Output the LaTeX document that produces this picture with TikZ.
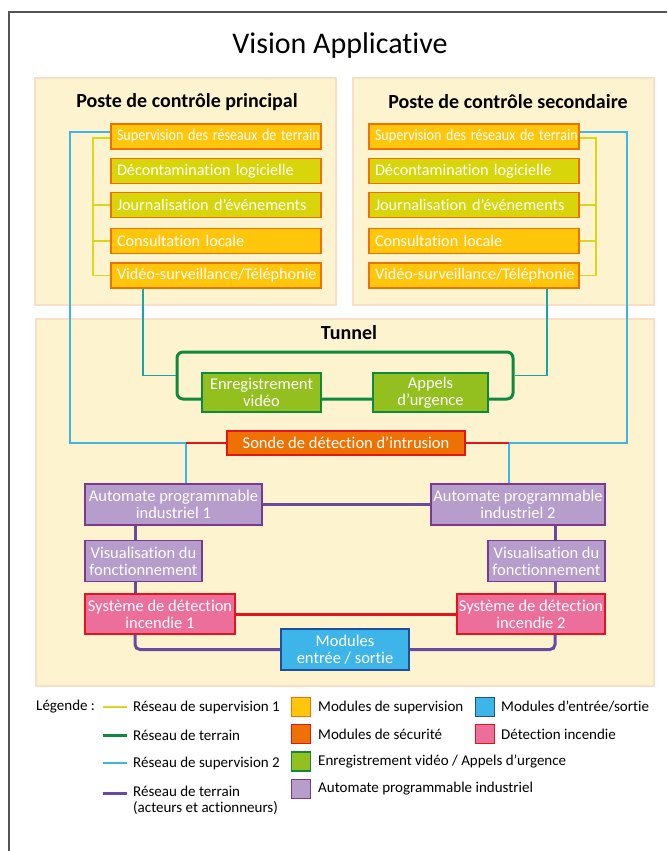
\documentclass[tikz,border=0pt]{standalone}
\usepackage{fontspec}
\setmainfont{Carlito}[Ligatures=NoCommon]
\usetikzlibrary{calc}

\definecolor{panelfill}{HTML}{FEF3CF}
\definecolor{panelline}{HTML}{FADFC6}
\definecolor{supfill}{HTML}{FFC60B}
\definecolor{orangeline}{HTML}{EE7203}
\definecolor{limefill}{HTML}{D8D60A}
\definecolor{redline}{HTML}{E3141B}
\definecolor{darkgreen}{HTML}{0E8A3E}
\definecolor{lightgreen}{HTML}{93C01F}
\definecolor{sup1line}{HTML}{DCD51E}
\definecolor{sup2line}{HTML}{3DB5E6}
\definecolor{tealline}{HTML}{17A5A8}
\definecolor{purpleline}{HTML}{6A4A9E}
\definecolor{purpleborder}{HTML}{7B3A8E}
\definecolor{purplefill}{HTML}{B69DCB}
\definecolor{pinkfill}{HTML}{EC6E9B}
\definecolor{bluefill}{HTML}{3EB5E8}
\definecolor{blueborder}{HTML}{1F4E9C}
\definecolor{framegray}{HTML}{555555}

% horizontally condensed label for the long module name
\newcommand{\narrowtext}[1]{\scalebox{0.87}[1]{#1}}

\tikzset{
  panel/.style={draw=panelline, fill=panelfill, line width=2pt},
  head/.style={font=\fontsize{20}{22}\selectfont\bfseries, text=black},
  modbox/.style={draw, line width=1.6pt, text=white, inner sep=0pt,
    font=\fontsize{16.5}{17}\selectfont},
  supbox/.style={modbox, draw=orangeline, fill=supfill, text width=210pt,
    inner xsep=0pt, minimum height=25pt, align=left,
    font=\fontsize{16.2}{17}\selectfont,
    execute at begin node={\hspace*{6pt}}},
  limebox/.style={supbox, fill=limefill},
  greenbox/.style={modbox, draw=darkgreen, fill=lightgreen, line width=1.2pt,
    minimum height=39pt, align=center},
  secbox/.style={modbox, draw=redline, fill=orangeline, minimum height=24pt, align=center},
  plcbox/.style={modbox, draw=purpleborder, fill=purplefill, minimum height=41pt, align=center},
  firebox/.style={modbox, draw=redline, fill=pinkfill, minimum height=40pt, align=center},
  iobox/.style={modbox, draw=blueborder, fill=bluefill, minimum height=41pt, align=center},
  ylw/.style={draw=sup1line, line width=1.6pt},
  blu/.style={draw=sup2line, line width=1.6pt},
  tea/.style={draw=tealline, line width=1.6pt},
  grn/.style={draw=darkgreen, line width=3pt},
  pur/.style={draw=purpleline, line width=3pt},
  redthin/.style={draw=redline, line width=1.6pt},
  redthick/.style={draw=redline, line width=3pt},
  legtext/.style={anchor=west, inner sep=0pt, font=\fontsize{15}{16}\selectfont, align=left},
  legsq/.style={line width=1.6pt, minimum size=19pt, inner sep=0pt},
}

\begin{document}
\begin{tikzpicture}[x=1pt, y=-1pt]
\useasboundingbox (0,0) rectangle (667,851);
\fill[white] (0,0) rectangle (667,851);

% outer frame (left and top edges)
\draw[framegray, line width=1.2pt] (9,851) -- (9,12) -- (667,12);

% title
\node[font=\fontsize{30}{32}\selectfont] (title) at (340,46) {Vision Applicative};

% panels
\node[panel, minimum width=301pt, minimum height=227pt] (P1) at (185.5,191.5) {};
\node[panel, minimum width=301pt, minimum height=227pt] (P2) at (503.5,191.5) {};
\node[panel, minimum width=618pt, minimum height=367pt] (P3) at (345,502.5) {};

\node[head] (h1) at (187,102) {Poste de contrôle principal};
\node[head] (h2) at (508,102) {Poste de contrôle secondaire};
\node[head] (h3) at (349,333) {Tunnel};

% control post modules
\node[supbox]  (L1) at (216,136.5) {\narrowtext{Supervision des réseaux de terrain}};
\node[limebox] (L2) at (216,171)   {Décontamination logicielle};
\node[limebox] (L3) at (216,205)   {Journalisation d’événements};
\node[supbox]  (L4) at (216,241)   {Consultation locale};
\node[supbox]  (L5) at (216,275.5) {Vidéo-surveillance/Téléphonie};

\node[supbox]  (R1) at (474,136.5) {\narrowtext{Supervision des réseaux de terrain}};
\node[limebox] (R2) at (474,171)   {Décontamination logicielle};
\node[limebox] (R3) at (474,205)   {Journalisation d’événements};
\node[supbox]  (R4) at (474,241)   {Consultation locale};
\node[supbox]  (R5) at (474,275.5) {Vidéo-surveillance/Téléphonie};

% supervision network 1
\draw[ylw] ([yshift=-1.5pt]L1.west) -- ++(-17,0) |- (L5.west);
\draw[ylw] (L3.west) -- ++(-17,0);
\draw[ylw] (L4.west) -- ++(-17,0);
\draw[ylw] ([yshift=-1.5pt]R1.east) -- ++(16,0) |- (R5.east);
\draw[ylw] (R3.east) -- ++(16,0);
\draw[ylw] (R4.east) -- ++(16,0);

% field network loop (video / emergency calls)
\node[grn, rounded corners=6pt, minimum width=336pt, minimum height=47pt] (loop) at (345,375.5) {};
\node[greenbox, minimum width=119pt] (E) at (261.5,392.5) {Enregistrement\\vidéo};
\node[greenbox, minimum width=115pt] (U) at (430.5,392.5) {Appels\\d’urgence};

\coordinate (T1) at (143,375.5);
\coordinate (T2) at (547,375.5);
\draw[tea] (L5.south -| T1) |- (loop.west);
\draw[tea] (R5.south -| T2) |- (loop.east);

% intrusion probe
\node[secbox, minimum width=238pt] (S) at (346,443) {Sonde de détection d’intrusion};

% PLCs and downstream modules
\node[plcbox, minimum width=177pt] (A1) at (173.5,504.5) {Automate programmable\\industriel 1};
\node[plcbox, minimum width=174pt] (A2) at (518,504.5) {Automate programmable\\industriel 2};
\node[plcbox, minimum width=117pt] (V1) at (143.5,561) {Visualisation du\\fonctionnement};
\node[plcbox, minimum width=117pt] (V2) at (546.5,561) {Visualisation du\\fonctionnement};
\node[firebox, minimum width=150pt] (F1) at (160,614) {Système de détection\\incendie 1};
\node[firebox, minimum width=148pt] (F2) at (531,614) {Système de détection\\incendie 2};
\node[iobox, minimum width=128pt] (M) at (345,649.5) {Modules\\entrée / sortie};

% supervision network 2
\coordinate (J1) at (186,443);
\coordinate (J2) at (509,443);
\coordinate (BL) at (70,443);
\coordinate (BR) at (627,443);
\draw[blu] ([yshift=4.5pt]L1.west) -| (BL) -- (J1) -- (J1 |- A1.north);
\draw[blu] ([yshift=4.5pt]R1.east) -| (BR) -- (J2) -- (J2 |- A2.north);
\draw[redthin] (J1) -- (S.west);
\draw[redthin] (S.east) -- (J2);

% field network (actuators)
\coordinate (PL) at (135,0);
\coordinate (PR) at (555,0);
\draw[pur] (A1.east) -- (A2.west);
\draw[pur] (A1.south -| PL) -- (V1.north -| PL);
\draw[pur] (V1.south -| PL) -- (F1.north -| PL);
\draw[pur, rounded corners=5pt] (F1.south -| PL) |- (M.west);
\draw[pur] (A2.south -| PR) -- (V2.north -| PR);
\draw[pur] (V2.south -| PR) -- (F2.north -| PR);
\draw[pur, rounded corners=5pt] (F2.south -| PR) |- (M.east);
\draw[redthick] (F1.east) -- (F2.west);

% legend
\node[legtext] (lg) at (36,707) {Légende :};
\coordinate (k1) at (103,707);
\coordinate (k2) at (103,735);
\coordinate (k3) at (103,763);
\coordinate (k4) at (103,793);
\draw[ylw] (k1) -- ++(24,0);
\draw[grn] (k2) -- ++(24,0);
\draw[blu] (k3) -- ++(24,0);
\draw[pur] (k4) -- ++(24,0);
\node[legtext] (t1) at (133,707) {Réseau de supervision 1};
\node[legtext] (t2) at (133,735) {Réseau de terrain};
\node[legtext] (t3) at (133,763) {Réseau de supervision 2};
\node[legtext] (t4) at (133,800) {Réseau de terrain\\(acteurs et actionneurs)};

\node[legsq, draw=orangeline, fill=supfill] (q1) at (301,707) {};
\node[legsq, draw=redline, fill=orangeline] (q2) at (301,734) {};
\node[legsq, draw=darkgreen, fill=lightgreen] (q3) at (301,761.5) {};
\node[legsq, draw=purpleborder, fill=purplefill] (q4) at (301,789) {};
\node[legsq, draw=blueborder, fill=bluefill] (q5) at (485,707) {};
\node[legsq, draw=redline, fill=pinkfill] (q6) at (485,734) {};
\node[legtext] (u1) at (318,707) {Modules de supervision};
\node[legtext] (u2) at (318,734) {Modules de sécurité};
\node[legtext] (u3) at (318,761.5) {Enregistrement vidéo / Appels d’urgence};
\node[legtext] (u4) at (318,789) {Automate programmable industriel};
\node[legtext] (u5) at (501,707) {Modules d’entrée/sortie};
\node[legtext] (u6) at (501,734) {Détection incendie};
\end{tikzpicture}
\end{document}
